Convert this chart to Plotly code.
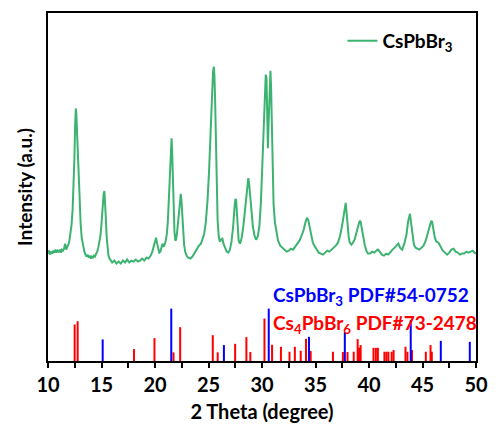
import plotly.graph_objects as go

# XRD pattern (2theta, intensity a.u.)
xrd_points = [
    (10.0,108),(10.1,111),(10.2,107),(10.3,110),(10.4,108),(10.5,111),(10.6,109),(10.7,112),(10.8,109),(10.9,111),
    (11.0,110),(11.1,112),(11.2,109),(11.3,112),(11.4,111),(11.5,113),(11.6,118),(11.7,112),(11.8,115),(11.9,117),
    (12.0,121),(12.1,127),(12.2,137),(12.3,152),(12.4,175),(12.47,205),(12.53,235),(12.6,254),(12.65,248),(12.7,232),
    (12.75,228),(12.8,212),(12.87,188),(12.95,160),(13.05,138),(13.15,124),(13.3,114),(13.4,110),(13.5,107),(13.6,105),
    (13.7,107),(13.8,104),(13.9,106),(14.0,103),(14.1,105),(14.2,104),(14.3,106),(14.4,105),(14.5,108),(14.6,110),
    (14.7,114),(14.8,119),(14.9,126),(15.0,138),(15.1,155),(15.2,168),(15.27,171),(15.33,162),(15.4,145),(15.48,125),
    (15.55,113),(15.65,106),(15.75,103),(15.9,101),(16.0,99),(16.2,101),(16.4,98),(16.6,100),(16.8,98),(17.0,101),
    (17.2,99),(17.4,102),(17.6,99),(17.8,101),(18.0,100),(18.2,102),(18.4,100),(18.6,101),(18.8,103),(19.0,101),
    (19.2,104),(19.4,103),(19.6,106),(19.75,110),(19.9,117),(20.0,121),(20.1,124),(20.2,118),(20.3,112),(20.4,109),
    (20.5,110),(20.6,114),(20.7,118),(20.8,115),(20.9,117),(21.0,121),(21.1,127),(21.2,140),(21.3,162),(21.4,190),
    (21.48,215),(21.55,224),(21.6,212),(21.67,185),(21.75,150),(21.82,130),(21.9,121),(21.97,122),(22.05,128),(22.15,140),
    (22.25,155),(22.33,166),(22.41,168),(22.48,160),(22.55,145),(22.63,128),(22.72,117),(22.82,110),(22.95,106),(23.1,104),
    (23.3,103),(23.5,105),(23.7,109),(23.9,112),(24.1,116),(24.3,118),(24.45,122),(24.6,128),(24.75,140),(24.9,160),
    (25.05,190),(25.2,235),(25.32,270),(25.42,290),(25.49,296),(25.55,288),(25.62,262),(25.7,215),(25.78,170),(25.85,142),
    (25.95,126),(26.05,120),(26.15,122),(26.3,123),(26.4,118),(26.55,114),(26.7,110),(26.85,109),(27.0,112),(27.15,120),
    (27.3,135),(27.45,157),(27.52,163),(27.58,162),(27.65,150),(27.72,133),(27.82,121),(27.95,118),(28.1,124),(28.25,135),
    (28.4,152),(28.55,172),(28.65,183),(28.72,184),(28.8,178),(28.9,165),(29.0,150),(29.15,135),(29.3,126),(29.45,122),
    (29.6,125),(29.75,135),(29.9,160),(30.0,190),(30.1,225),(30.2,258),(30.28,280),(30.35,288),(30.42,285),(30.48,255),
    (30.55,214),(30.62,240),(30.7,272),(30.79,292),(30.85,275),(30.92,235),(31.0,185),(31.08,158),(31.2,140),(31.35,128),
    (31.5,121),(31.7,116),(31.9,114),(32.1,112),(32.3,110),(32.5,111),(32.7,113),(32.9,112),(33.1,115),(33.3,118),
    (33.5,121),(33.7,126),(33.9,132),(34.05,139),(34.2,144),(34.32,142),(34.45,136),(34.6,126),(34.75,119),(34.9,116),
    (35.1,112),(35.3,109),(35.5,108),(35.7,107),(35.9,109),(36.1,111),(36.3,110),(36.5,112),(36.7,113),(36.9,116),
    (37.1,119),(37.3,126),(37.5,137),(37.65,150),(37.75,158),(37.82,159),(37.9,150),(38.0,136),(38.1,125),(38.2,119),
    (38.35,117),(38.5,119),(38.65,122),(38.8,128),(38.95,134),(39.1,140),(39.2,141),(39.3,136),(39.45,126),(39.6,117),
    (39.75,111),(39.9,108),(40.1,108),(40.3,110),(40.5,109),(40.7,111),(40.85,112),(41.0,110),(41.2,107),(41.4,106),
    (41.6,108),(41.8,107),(42.0,110),(42.2,112),(42.4,114),(42.6,117),(42.75,118),(42.9,114),(43.1,112),(43.3,118),
    (43.5,127),(43.65,140),(43.75,147),(43.83,148),(43.92,140),(44.05,127),(44.2,117),(44.35,114),(44.5,113),(44.7,112),
    (44.9,114),(45.1,116),(45.3,121),(45.5,128),(45.7,137),(45.82,141),(45.9,140),(46.0,132),(46.15,124),(46.3,120),
    (46.5,119),(46.7,115),(46.9,111),(47.1,109),(47.3,107),(47.5,109),(47.7,112),(47.9,113),(48.1,110),(48.3,109),
    (48.5,107),(48.7,108),(48.9,108),(49.1,110),(49.3,109),(49.5,110),(49.7,111),(49.85,109),(50.0,108),
]
two_theta = [p[0] for p in xrd_points]
intensity = [p[1] for p in xrd_points]

# Reference sticks
cspbbr3_pos = [15.11, 21.52, 26.44, 30.63, 34.39, 37.74, 43.90, 46.71, 49.42]
cspbbr3_int = [21.7, 52.7, 16, 52.7, 24.3, 28.7, 41, 20.3, 19.3]

cs4pbbr6_pos = [12.49, 12.77, 18.04, 19.95, 21.73, 22.35, 25.40, 25.86, 27.49, 28.54, 28.91, 30.23, 30.94,
                31.77, 32.57, 33.07, 33.62, 34.11, 34.55, 36.63, 37.56, 37.99, 38.57, 38.94, 39.07, 39.22,
                40.42, 40.64, 40.83, 41.44, 41.63, 41.81, 42.12, 42.30, 43.41, 43.59, 44.02, 45.31, 45.75, 45.87]
cs4pbbr6_int = [36.7, 40, 12, 23, 8.7, 34, 26, 8.7, 17.3, 24, 9, 42.7, 16.3,
                14.3, 9.3, 14.3, 10.3, 22.3, 10, 9.3, 9, 9, 9.3, 22, 13.3, 16,
                13.3, 13.3, 13.3, 9.3, 9.3, 9.3, 9.3, 11, 14.3, 9.3, 11, 9.3, 16, 9.3]

x_ticks = [10, 15, 20, 25, 30, 35, 40, 45, 50]


def sticks(pos, h):
    xs, ys = [], []
    for p, v in zip(pos, h):
        xs += [p, p, None]
        ys += [0, v, None]
    return xs, ys

FONT = "Lato"
fig = go.Figure()

rx, ry = sticks(cs4pbbr6_pos, cs4pbbr6_int)
fig.add_trace(go.Scatter(x=rx, y=ry, mode="lines", line=dict(color="#ff0000", width=2),
                         showlegend=False, hoverinfo="skip"))
bx, by = sticks(cspbbr3_pos, cspbbr3_int)
fig.add_trace(go.Scatter(x=bx, y=by, mode="lines", line=dict(color="#0000ff", width=2),
                         showlegend=False, hoverinfo="skip"))
fig.add_trace(go.Scatter(x=two_theta, y=intensity, mode="lines",
                         line=dict(color="#3cb371", width=2), name="CsPbBr<sub>3</sub>"))

fig.update_layout(
    width=499, height=434,
    margin=dict(l=48, r=16, t=11, b=73),
    paper_bgcolor="white", plot_bgcolor="white",
    font=dict(family=FONT, color="black"),
    showlegend=True,
    legend=dict(x=0.688, y=0.92, xanchor="left", yanchor="middle",
                bgcolor="rgba(0,0,0,0)", font=dict(size=19, family=FONT, weight="bold")),
    xaxis=dict(range=[10, 50], tickvals=x_ticks, ticks="outside", ticklen=5, tickwidth=2,
               tickcolor="black", showline=True, linewidth=2, linecolor="black", mirror=True,
               showgrid=False, zeroline=False,
               minor=dict(dtick=2.5, tick0=10, ticks="outside", ticklen=5, tickwidth=2, tickcolor="black"),
               tickfont=dict(size=20, family=FONT, weight="bold"),
               title=dict(text="2 Theta (degree)", font=dict(size=20, family=FONT, weight="bold"), standoff=10)),
    yaxis=dict(range=[0, 350], showticklabels=False, ticks="", showline=True, linewidth=2,
               linecolor="black", mirror=True, showgrid=False, zeroline=False,
               title=dict(text="Intensity (a.u.)", font=dict(size=19, family=FONT, weight="bold"), standoff=8)),
    annotations=[
        dict(xref="paper", yref="paper", x=0.522, y=0.186, xanchor="left", yanchor="middle",
             text="CsPbBr<sub>3</sub> PDF#54-0752", showarrow=False,
             font=dict(size=19, color="#0000ff", family=FONT, weight="bold")),
        dict(xref="paper", yref="paper", x=0.522, y=0.105, xanchor="left", yanchor="middle",
             text="Cs<sub>4</sub>PbBr<sub>6</sub> PDF#73-2478", showarrow=False,
             font=dict(size=19, color="#ff0000", family=FONT, weight="bold")),
    ],
)

fig.write_html("out.html")
